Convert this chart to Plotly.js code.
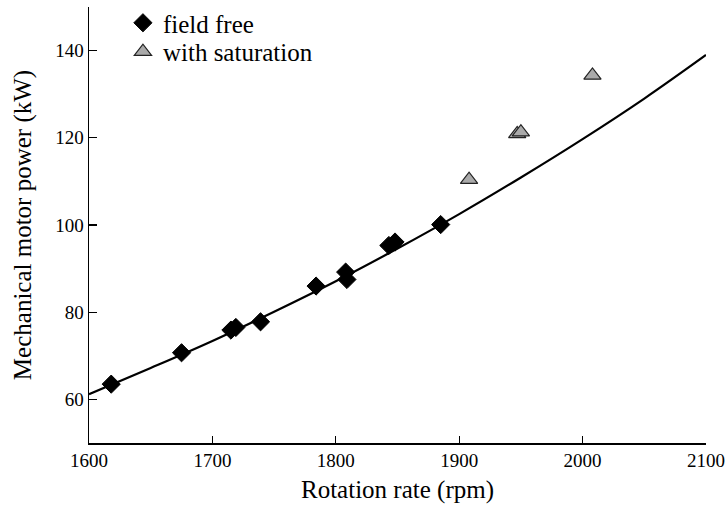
<!DOCTYPE html>
<html>
<head>
<meta charset="utf-8">
<script src="https://cdn.plot.ly/plotly-3.0.1.min.js"></script>
<style>
  html, body { margin: 0; padding: 0; background: #ffffff; }
  #chart { width: 726px; height: 508px; }
</style>
</head>
<body>
<div id="chart"></div>
<script>
// Measured operating points without field weakening
const fieldFreeRpm = [1618, 1675, 1715, 1719, 1739, 1784, 1808, 1809, 1843, 1848, 1885];
const fieldFreePower = [63.5, 70.7, 75.9, 76.5, 77.8, 86.0, 89.2, 87.5, 95.3, 96.1, 100.1];

// Measured operating points with magnetic saturation
const saturationRpm = [1908, 1947, 1950, 2008];
const saturationPower = [110.4, 120.9, 121.3, 134.3];

// Trend curve through the field-free points
const curveRpm = [1600, 1650, 1700, 1750, 1800, 1850, 1900, 1950, 2000, 2050, 2100];
const curvePower = [61.2, 67.2, 73.4, 80.1, 87.1, 94.6, 102.5, 110.9, 119.7, 129.0, 139.0];

const xTicks = [1600, 1700, 1800, 1900, 2000, 2100];
const yTicks = [60, 80, 100, 120, 140];

const serif = 'Liberation Serif, Times New Roman, serif';

const traces = [
  {
    x: curveRpm, y: curvePower,
    mode: 'lines', type: 'scatter',
    line: { color: '#000000', width: 2.2, shape: 'spline' },
    showlegend: false, hoverinfo: 'skip'
  },
  {
    x: fieldFreeRpm, y: fieldFreePower,
    mode: 'markers', type: 'scatter', name: 'field free',
    legend: 'legend',
    marker: { symbol: 'diamond', size: 14, color: '#000000',
              line: { color: '#000000', width: 1 } }
  },
  {
    x: saturationRpm, y: saturationPower,
    mode: 'markers', type: 'scatter', name: 'with saturation',
    legend: 'legend2',
    marker: { symbol: 'triangle-up', size: 15, color: '#aaaaaa',
              line: { color: '#222222', width: 1.2 } }
  }
];

// One legend box per series so the two rows can sit close together
const legendStyle = (y) => ({
  x: 0.055, y: y, xanchor: 'left', yanchor: 'top', yref: 'container',
  bgcolor: 'rgba(0,0,0,0)', borderwidth: 0,
  font: { family: serif, size: 25, color: '#000000' }
});

const layout = {
  width: 726, height: 508,
  margin: { l: 89, r: 20, t: 7, b: 65, autoexpand: false },
  paper_bgcolor: '#ffffff', plot_bgcolor: '#ffffff',
  font: { family: serif, size: 19, color: '#000000' },
  showlegend: true,
  legend: legendStyle(1.0),
  legend2: legendStyle(0.943),
  xaxis: {
    range: [1600, 2100],
    tickvals: xTicks, ticktext: xTicks.map(String),
    ticks: 'inside', ticklen: 7, tickwidth: 1.3, tickcolor: '#000000',
    showline: true, linecolor: '#000000', linewidth: 1.5,
    showgrid: false, zeroline: false,
    tickfont: { family: serif, size: 19, color: '#000000' },
    title: { text: 'Rotation rate (rpm)', font: { family: serif, size: 25, color: '#000000' }, standoff: 10 }
  },
  yaxis: {
    range: [50, 150],
    tickvals: yTicks, ticktext: yTicks.map(String),
    ticks: 'inside', ticklen: 8, tickwidth: 1.3, tickcolor: '#000000',
    showline: true, linecolor: '#000000', linewidth: 1.5,
    showgrid: false, zeroline: false,
    tickfont: { family: serif, size: 19, color: '#000000' },
    title: { text: 'Mechanical motor power (kW)', font: { family: serif, size: 25, color: '#000000' }, standoff: 16 }
  }
};

Plotly.newPlot('chart', traces, layout, { displayModeBar: false, staticPlot: true });
</script>
</body>
</html>
